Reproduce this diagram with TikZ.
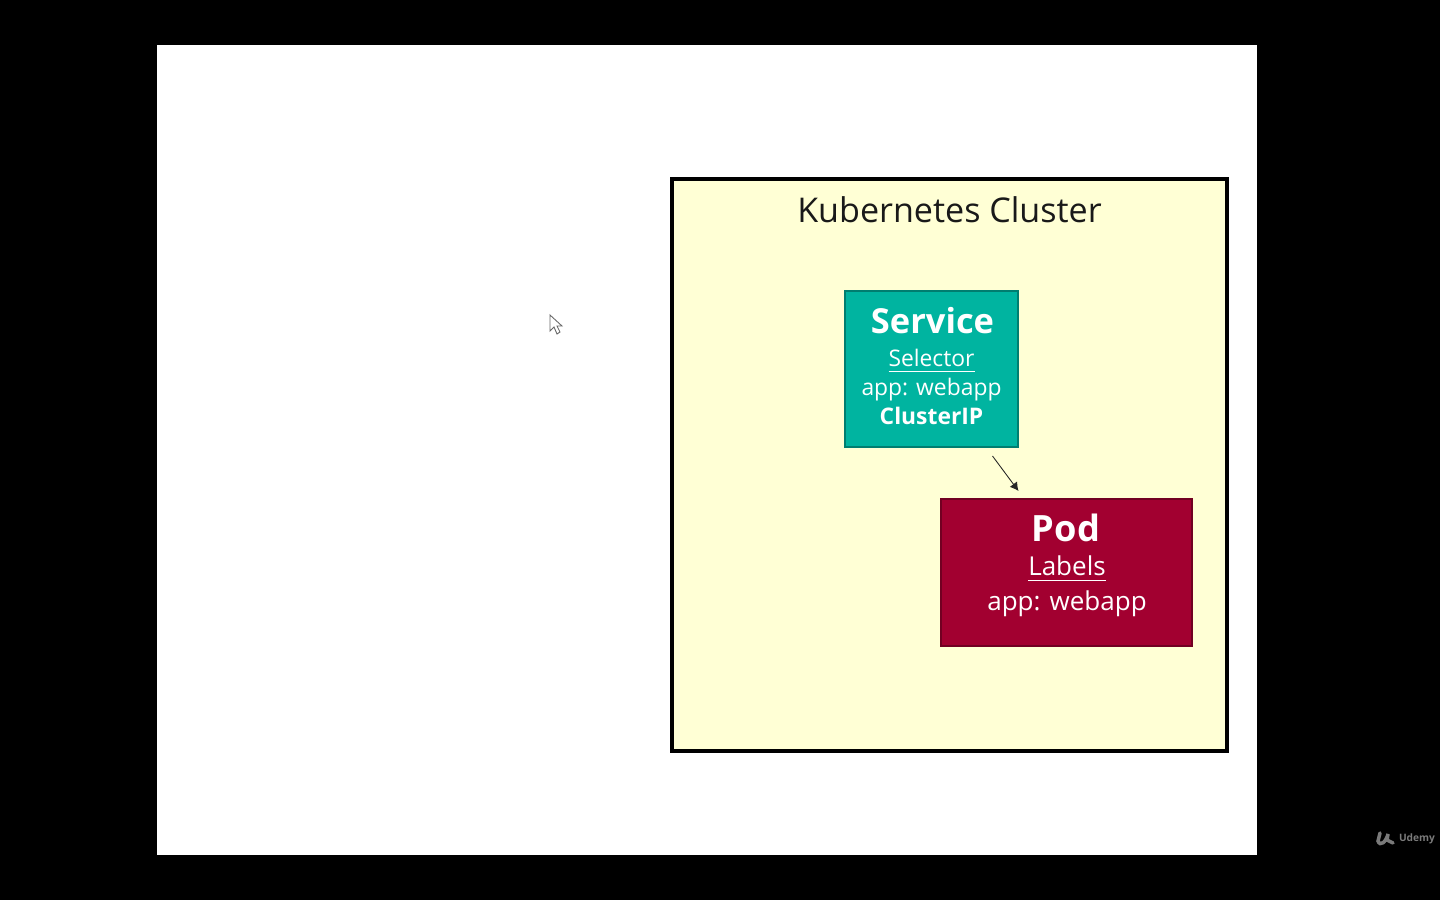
\documentclass[tikz,border=0pt]{standalone}
\usepackage{fontspec}
\setmainfont{Open Sans}
\usepackage{tikz}
\usetikzlibrary{arrows.meta, positioning}
\usepackage{xcolor}
\definecolor{kcluster}{HTML}{FFFFD5}
\definecolor{kservice}{HTML}{00B4A0}
\definecolor{kpod}{HTML}{A20030}
\definecolor{kbrand}{HTML}{7A7A7A}
\tikzset{
  kbox/.style={draw=black!30!#1, line width=0.3pt, text=white, align=center, inner sep=0pt, fill=#1},
  arr/.style={-{Latex[length=2.4pt,width=2.6pt]}, line width=0.25pt, black!85},
}
\begin{document}
\begin{tikzpicture}[x=1cm, y=1cm]
  \useasboundingbox (0,0) rectangle (14.4,9);
  \fill[black] (0,0) rectangle (14.4,9);
  \node[fill=white, minimum width=11cm, minimum height=8.1cm, inner sep=0pt] (slide) at (7.07,4.5) {};
  \node[draw=black, line width=0.9pt, fill=kcluster, minimum width=5.55cm, minimum height=5.72cm, inner sep=0pt] (cluster) at (9.495,4.35) {};
  \node[font=\fontsize{9.7}{12}\selectfont, text=black!90] (title) at (9.495,6.9) {Kubernetes Cluster};
  % service box
  \node[kbox=kservice, minimum width=1.73cm, minimum height=1.56cm] (service) at (9.315,5.31) {};
  \node[text=white, font=\fontsize{9.8}{12}\selectfont\bfseries] (servicename) at (9.325,5.79) {Service};
  \node[text=white, font=\fontsize{6.5}{8}\selectfont, align=center] (servicetext) at (9.315,5.13)
    {\underline{Selector}\\[0.4pt] app: webapp\\[0.3pt] \textbf{ClusterIP}};
  % pod box
  \node[kbox=kpod, minimum width=2.51cm, minimum height=1.47cm] (pod) at (10.665,3.275) {};
  \node[text=white, font=\fontsize{10.3}{12}\selectfont\bfseries] (podname) at (10.66,3.72) {Pod};
  \node[text=white, font=\fontsize{7.4}{9}\selectfont, align=center] (podtext) at (10.67,3.14)
    {\underline{Labels}\\[1pt] app: webapp};
  % selector arrow
  \coordinate (arrowstart) at (9.925,4.44);
  \coordinate (arrowend) at (10.185,4.09);
  \draw[arr] (arrowstart) -- (arrowend);
  % pointer
  \draw[black!60, fill=white, line width=0.25pt] (5.5,5.85) -- (5.5,5.69) -- (5.54,5.73) -- (5.57,5.66) -- (5.6,5.68) -- (5.57,5.74) -- (5.62,5.74) -- cycle;
  % brand mark
  \draw[kbrand, line width=1pt, line cap=round] (13.8,0.67) -- (13.78,0.59) .. controls (13.8,0.53) and (13.86,0.58) .. (13.88,0.66) -- (13.87,0.6) -- (13.93,0.57);
  \node[kbrand, font=\fontsize{2.9}{3}\selectfont\bfseries] (brand) at (14.17,0.615) {Udemy};
\end{tikzpicture}
\end{document}
